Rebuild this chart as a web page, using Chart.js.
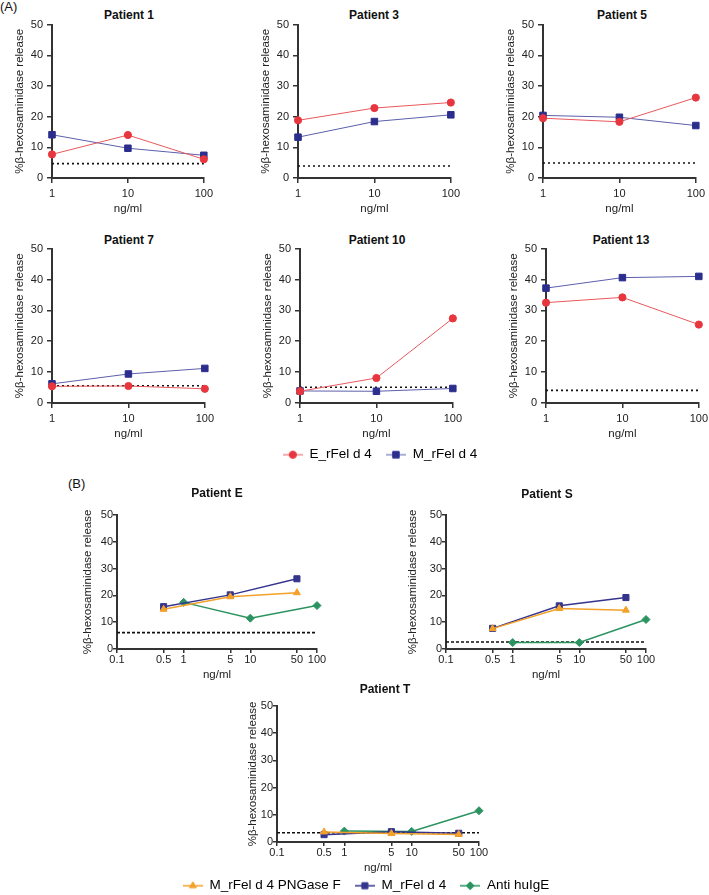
<!DOCTYPE html>
<html>
<head>
<meta charset="utf-8">
<script src="https://cdn.jsdelivr.net/npm/chart.js@4.4.1/dist/chart.umd.min.js"></script>
<style>
  body { margin: 0; background: #fff; overflow: hidden; }
  #page { position: relative; width: 709px; height: 895px; overflow: hidden; background: #fff;
          font-family: "Liberation Sans", Arial, sans-serif; color: #111; }
  .ttl { position: absolute; font-weight: bold; font-size: 12px; line-height: 14px; white-space: nowrap; transform: translateX(-50%); }
  .tag { position: absolute; font-size: 13px; line-height: 14px; }
  canvas { position: absolute; }
</style>
</head>
<body>
<div id="page"></div>
<script>
// ---- data (A) ----
const xA = [1, 10, 100];
const p1E = [7.7, 14.0, 6.1];   const p1M = [14.1, 9.7, 7.4];
const p3E = [18.8, 22.8, 24.6]; const p3M = [13.3, 18.4, 20.6];
const p5E = [19.5, 18.3, 26.2]; const p5M = [20.4, 19.8, 17.1];
const p7E = [5.4, 5.5, 4.6];    const p7M = [6.2, 9.4, 11.2];
const p10E = [3.8, 8.1, 27.4];  const p10M = [3.9, 3.8, 4.7];
const p13E = [32.5, 34.2, 25.4]; const p13M = [37.2, 40.6, 41.0];
const baseA = [4.7, 3.9, 4.9, 5.6, 5.1, 4.1];

// ---- data (B) ----
const xTicksB = [0.1, 0.5, 1, 5, 10, 50, 100];
const xRfel = [0.5, 5, 50];
const xAnti = [1, 10, 100];
const pEpng = [14.8, 19.5, 21.0]; const pEm = [15.8, 20.2, 26.2]; const pEanti = [17.4, 11.5, 16.2];
const pSpng = [7.6, 15.1, 14.5];  const pSm = [7.7, 16.1, 19.2];  const pSanti = [2.4, 2.4, 11.0];
const pTpng = [3.7, 3.1, 2.8];    const pTm = [2.7, 3.8, 3.2];    const pTanti = [4.0, 3.9, 11.5];
const baseB = [6.1, 2.6, 3.4];

const yTitle = "%β-hexosaminidase release";

Chart.defaults.font.family = '"Liberation Sans", Arial, sans-serif';
Chart.defaults.color = '#222';

const page = document.getElementById('page');

// series styles
const sE = { label: 'E_rFel d 4', color: '#e8363e', line: '#e8585d', style: 'circle', r: 3.6, w: 1 };
const sM = { label: 'M_rFel d 4', color: '#2b2e8c', line: '#5c5fab', style: 'rect', r: 4.6, w: 1 };
const sPng = { label: 'M_rFel d 4 PNGase F', color: '#f3a129', line: '#f3a129', style: 'triangle', r: 4, w: 1.5 };
const sMb = { label: 'M_rFel d 4', color: '#35358e', line: '#35358e', style: 'rect', r: 4.3, w: 1.5 };
const sAnti = { label: 'Anti huIgE', color: '#2b9360', line: '#2b9360', style: 'rectRot', r: 4, w: 1.5 };

function place(left, top, w, h) {
  const c = document.createElement('canvas');
  c.width = w; c.height = h;
  c.style.left = left + 'px'; c.style.top = top + 'px';
  c.style.width = w + 'px'; c.style.height = h + 'px';
  page.appendChild(c);
  return c;
}

function text(cls, str, x, y) {
  const d = document.createElement('div');
  d.className = cls;
  d.textContent = str;
  d.style.left = x + 'px';
  d.style.top = (y - 7) + 'px';
  page.appendChild(d);
}

function series(s, xs, ys) {
  return {
    label: s.label,
    data: xs.map((x, i) => ({ x: x, y: ys[i] })),
    borderColor: s.line,
    borderWidth: s.w,
    pointStyle: s.style,
    pointRadius: s.r,
    pointBackgroundColor: s.color,
    pointBorderColor: s.color,
    pointBorderWidth: 1,
    tension: 0,
    clip: false
  };
}

function baseline(v, x0, x1, dash) {
  return {
    label: 'baseline',
    data: [{ x: x0, y: v }, { x: x1, y: v }],
    borderColor: '#111',
    borderWidth: 1.6,
    borderDash: dash,
    pointRadius: 0,
    clip: false
  };
}

function panel(box, xMin, xMax, xTicks, sets, base, o) {
  const YW = 40, PT = 10, PR = 11, XH = 40;
  const c = place(box.L - YW, box.T - PT, YW + box.R - box.L + PR, PT + box.B - box.T + XH);
  new Chart(c, {
    type: 'line',
    data: { datasets: sets.concat([baseline(base, xMin, xMax, o.dash)]) },
    options: {
      responsive: false,
      animation: false,
      layout: { padding: { top: PT, right: PR, left: 0, bottom: 0 } },
      plugins: { legend: { display: false }, tooltip: { enabled: false } },
      scales: {
        x: {
          type: 'logarithmic', min: xMin, max: xMax,
          afterBuildTicks: s => { s.ticks = xTicks.map(v => ({ value: v })); },
          afterFit: s => { s.height = XH; },
          ticks: { autoSkip: false, maxRotation: 0, padding: o.xtp, font: { size: 11 }, color: '#222',
                   callback: v => String(v) },
          grid: { drawOnChartArea: false, drawTicks: true, tickLength: o.tl, color: '#333', lineWidth: 1.5 },
          border: { display: true, color: '#333', width: 2 },
          title: { display: true, text: 'ng/ml', font: { size: 11.5 }, color: '#222', padding: { top: 0, bottom: o.xtb } }
        },
        y: {
          min: 0, max: 50,
          afterFit: s => { s.width = YW; },
          ticks: { stepSize: 10, padding: o.ytp, font: { size: 11 }, color: '#222' },
          grid: { drawOnChartArea: false, drawTicks: true, tickLength: o.tl, color: '#333', lineWidth: 1.5 },
          border: { display: true, color: '#333', width: 2 },
          title: { display: true, text: yTitle, font: { size: 11.5 }, color: '#222', padding: { top: o.ytt, bottom: 0 } }
        }
      }
    }
  });
}

function icon(s) {
  const c = document.createElement('canvas');
  c.width = 20; c.height = 12;
  const ctx = c.getContext('2d');
  ctx.strokeStyle = s.line; ctx.lineWidth = s.w;
  ctx.beginPath(); ctx.moveTo(0, 6); ctx.lineTo(20, 6); ctx.stroke();
  ctx.fillStyle = s.color; ctx.strokeStyle = s.color; ctx.lineWidth = 1;
  Chart.helpers.drawPoint(ctx, { pointStyle: s.style, radius: s.r, rotation: 0, borderWidth: 1 }, 10, 6);
  return c;
}

function legend(items, cx, cy, w) {
  const c = place(cx - w / 2, cy - 21, w, 100);
  new Chart(c, {
    type: 'line',
    data: { datasets: items.map(s => ({ label: s.label, data: [] })) },
    options: {
      responsive: false, animation: false,
      layout: { padding: 0 },
      scales: { x: { display: false }, y: { display: false } },
      plugins: {
        tooltip: { enabled: false },
        legend: {
          display: true, position: 'top',
          labels: {
            usePointStyle: true, pointStyleWidth: 20, padding: 14,
            font: { size: 13.5 }, color: '#222',
            generateLabels: () => items.map((s, i) => ({
              text: s.label, pointStyle: icon(s), datasetIndex: i,
              fillStyle: s.color, strokeStyle: s.color, lineWidth: 0, hidden: false
            }))
          }
        }
      }
    }
  });
}

const optA = { tl: 5, xtp: 4, xtb: 2, ytp: 4, ytt: 1, dash: [2, 3] };

// (A)
text('tag', '(A)', 0, 7);
const boxesA = [
  { L: 52, R: 206, T: 24, B: 178, t: 'Patient 1', cx: 129, cy: 15, e: p1E, m: p1M },
  { L: 298, R: 453, T: 24, B: 178, t: 'Patient 3', cx: 374, cy: 15, e: p3E, m: p3M },
  { L: 543, R: 698, T: 24, B: 178, t: 'Patient 5', cx: 622, cy: 15, e: p5E, m: p5M },
  { L: 52, R: 207, T: 248, B: 403, t: 'Patient 7', cx: 129, cy: 240, e: p7E, m: p7M },
  { L: 300, R: 455, T: 248, B: 403, t: 'Patient 10', cx: 377, cy: 240, e: p10E, m: p10M },
  { L: 546, R: 701, T: 248, B: 403, t: 'Patient 13', cx: 621, cy: 240, e: p13E, m: p13M }
];
boxesA.forEach((b, i) => {
  text('ttl', b.t, b.cx, b.cy);
  panel(b, 1, 100, xA, [series(sE, xA, b.e), series(sM, xA, b.m)], baseA[i], optA);
});
legend([sE, sM], 380, 455, 320);

// (B)
text('tag', '(B)', 68, 484);
const optE = { tl: 4, xtp: 0, xtb: 7, ytp: 0, ytt: 4, dash: [3, 2] };
const optS = { tl: 4, xtp: 0, xtb: 7, ytp: 0, ytt: 0, dash: [3, 2] };
const optT = { tl: 4, xtp: 0, xtb: 7, ytp: 0, ytt: 9, dash: [3, 2] };

text('ttl', 'Patient E', 217, 493);
panel({ L: 117, R: 317, T: 515, B: 649 }, 0.1, 100, xTicksB,
  [series(sPng, xRfel, pEpng), series(sMb, xRfel, pEm), series(sAnti, xAnti, pEanti)], baseB[0], optE);

text('ttl', 'Patient S', 547, 494);
panel({ L: 446, R: 646, T: 515, B: 649 }, 0.1, 100, xTicksB,
  [series(sPng, xRfel, pSpng), series(sMb, xRfel, pSm), series(sAnti, xAnti, pSanti)], baseB[1], optS);

text('ttl', 'Patient T', 385, 689);
panel({ L: 277, R: 479, T: 706, B: 842 }, 0.1, 100, xTicksB,
  [series(sPng, xRfel, pTpng), series(sMb, xRfel, pTm), series(sAnti, xAnti, pTanti)], baseB[2], optT);

legend([sPng, sMb, sAnti], 366, 886, 440);
</script>
</body>
</html>
